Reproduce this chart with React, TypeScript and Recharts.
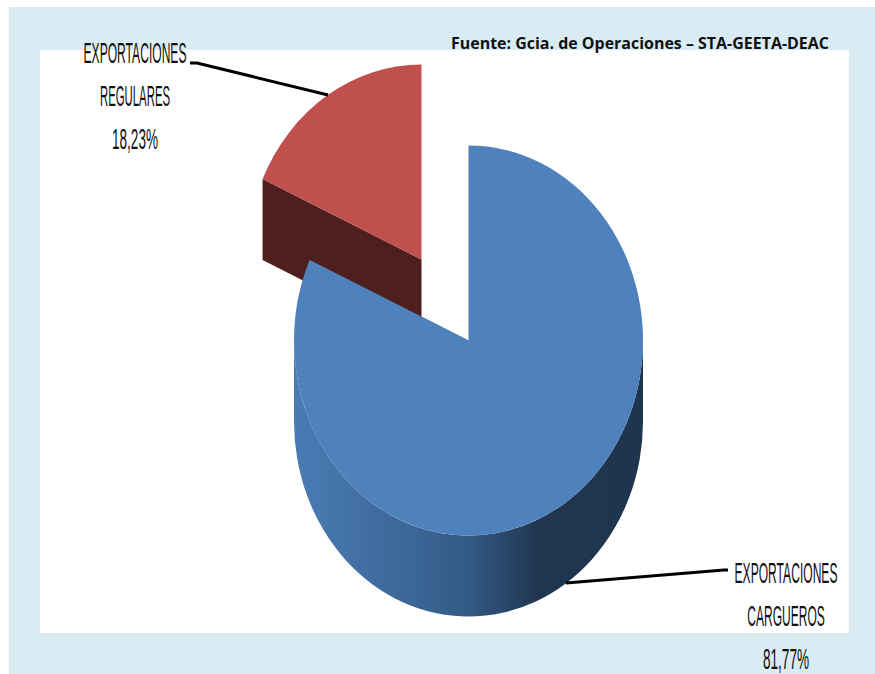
import { PieChart, Pie } from "recharts";

const categories = ["EXPORTACIONES REGULARES", "EXPORTACIONES CARGUEROS"];
const values = [18.23, 81.77];
const sourceNote = "Fuente: Gcia. de Operaciones – STA-GEETA-DEAC";

const data = categories.map((name, i) => ({ name, value: values[i] }));

const CX = 468.5;
const CY = 340.5;
const RX = 174.5;
const RY = 195;
const DEPTH = 81;
// the red slice is pulled out of the pie
const EXPLODE = [{ dx: -47, dy: -81 }, { dx: 0, dy: 0 }];
const TOP_COLORS = ["#c0504d", "#4f81bd"];
const SIDE_COLORS = ["#4f1f1d", "url(#blueSide)"];

// the source has very narrow, tall type, so each line gets squeezed horizontally
const labelLayout = [
  {
    squeeze: [0.417, 0.392, 0.468],
    x: 135,
    baselines: [63, 106, 149],
    line: "M190 63 L197 63 L328 95",
  },
  {
    squeeze: [0.417, 0.415, 0.468],
    x: 786,
    baselines: [583, 626, 669],
    line: "M566 583 L724 570 L728 570",
  },
];

const lastLine = (v: number) => v.toFixed(2).replace(".", ",") + "%";

const Slice = (props: any) => {
  const { startAngle, endAngle, index } = props;
  const off = EXPLODE[index] || EXPLODE[1];
  const cx = CX + off.dx;
  const cy = CY + off.dy;
  const pt = (deg: number) => {
    const a = (deg * Math.PI) / 180;
    return [cx + RX * Math.cos(a), cy - RY * Math.sin(a)];
  };
  const s = pt(startAngle);
  const e = pt(endAngle);
  const large = startAngle - endAngle > 180 ? 1 : 0;
  const top = `M${cx} ${cy} L${s[0]} ${s[1]} A${RX} ${RY} 0 ${large} 1 ${e[0]} ${e[1]} Z`;
  const wall = (p: number[]) =>
    `M${cx} ${cy} L${p[0]} ${p[1]} L${p[0]} ${p[1] + DEPTH} L${cx} ${cy + DEPTH} Z`;
  // outer rim only shows on the front half of the ellipse
  const hasFront = startAngle - endAngle > 180;
  const rim = `M${cx + RX} ${cy} A${RX} ${RY} 0 0 1 ${cx - RX} ${cy} L${cx - RX} ${cy + DEPTH} A${RX} ${RY} 0 0 0 ${cx + RX} ${cy + DEPTH} Z`;
  return (
    <g>
      <path d={wall(s)} fill={SIDE_COLORS[index]} />
      <path d={wall(e)} fill={SIDE_COLORS[index]} />
      {hasFront && <path d={rim} fill={SIDE_COLORS[index]} />}
      <path d={top} fill={TOP_COLORS[index]} />
    </g>
  );
};

const SliceLabel = (props: any) => {
  const { index, name, value } = props;
  const l = labelLayout[index];
  const lines = [...String(name).split(" "), lastLine(value)];
  return (
    <g>
      <path d={l.line} fill="none" stroke="#000" strokeWidth={3} />
      {lines.map((t, i) => (
        <text
          key={t}
          transform={`translate(${l.x} ${l.baselines[i]}) scale(${l.squeeze[i]} 1)`}
          textAnchor="middle"
          fontFamily="'Liberation Sans Narrow', 'Liberation Sans', sans-serif"
          fontSize={29}
          fill="#111"
        >
          {t}
        </text>
      ))}
    </g>
  );
};

export default function App() {
  // first slice is drawn first, so it sits under the big one
  const startAngle = 90 + (values[0] / (values[0] + values[1])) * 360;
  return (
    <div style={{ position: "absolute", left: 0, top: 0, width: 875, height: 674, background: "#fff", overflow: "hidden" }}>
      <div style={{ position: "absolute", left: 9, top: 7, width: 866, height: 667, background: "#daecf3" }} />
      <div style={{ position: "absolute", left: 40, top: 50, width: 809, height: 583, background: "#fff" }} />
      <div style={{ position: "absolute", left: 0, top: 0 }}>
        <PieChart width={875} height={674} margin={{ top: 0, right: 0, bottom: 0, left: 0 }}>
          <defs>
            <linearGradient id="blueSide" x1="0" y1="0" x2="1" y2="0">
              <stop offset="0%" stopColor="#4a7cb4" />
              <stop offset="25%" stopColor="#3f6c9f" />
              <stop offset="50%" stopColor="#335a85" />
              <stop offset="70%" stopColor="#20364f" />
              <stop offset="100%" stopColor="#1f344e" />
            </linearGradient>
          </defs>
          <Pie
            data={data}
            dataKey="value"
            nameKey="name"
            cx={CX}
            cy={CY}
            outerRadius={RX}
            startAngle={startAngle}
            endAngle={startAngle - 360}
            stroke="none"
            shape={Slice}
            label={SliceLabel}
            labelLine={false}
            isAnimationActive={false}
          />
          <text
            x={451}
            y={49}
            fontFamily="'Open Sans', sans-serif"
            fontWeight={700}
            fontSize={15.5}
            fill="#111"
            textLength={378}
            lengthAdjust="spacingAndGlyphs"
          >
            {sourceNote}
          </text>
        </PieChart>
      </div>
    </div>
  );
}
